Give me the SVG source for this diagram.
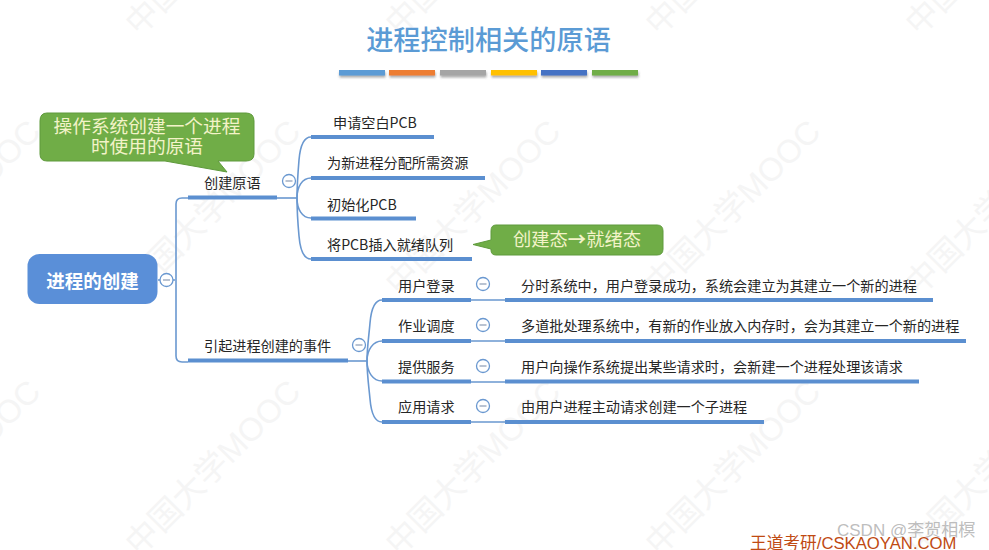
<svg xmlns="http://www.w3.org/2000/svg" width="989" height="550" viewBox="0 0 989 550">
<style>
text{font-family:"Noto Sans CJK SC","Liberation Sans",sans-serif}
.wm{font-size:32.500px;fill:#f5f5f5;font-family:"Liberation Sans","Noto Sans CJK SC",sans-serif}
.t{font-size:14.150px;fill:#262626}
.ln{fill:none;stroke:#6a98d0;stroke-width:1.6}
.bar{stroke:#5b8fd0;stroke-width:4;fill:none}
.c{fill:#fff;stroke:#6a98d0;stroke-width:1.3}
.m{stroke:#8a9cb5;stroke-width:1.2}
.g{fill:#70ad47;stroke:#5f9a3c;stroke-width:1}
.gt{fill:#f3f3c8;text-anchor:middle}
.f{font-family:"Liberation Sans","Noto Sans CJK SC",sans-serif}
</style>
<defs><filter id="s" x="-5%" y="-50%" width="110%" height="250%"><feDropShadow dx="0.5" dy="2" stdDeviation="1" flood-color="#555" flood-opacity="0.5"/></filter></defs>
<rect width="989" height="550" fill="#fff"/>
<g id="watermark">
<text class="wm" transform="translate(139,37) rotate(-45)">中国大学MOOC</text>
<text class="wm" transform="translate(399,37) rotate(-45)">中国大学MOOC</text>
<text class="wm" transform="translate(659,37) rotate(-45)">中国大学MOOC</text>
<text class="wm" transform="translate(919,37) rotate(-45)">中国大学MOOC</text>
<text class="wm" transform="translate(-121,297) rotate(-45)">中国大学MOOC</text>
<text class="wm" transform="translate(139,297) rotate(-45)">中国大学MOOC</text>
<text class="wm" transform="translate(399,297) rotate(-45)">中国大学MOOC</text>
<text class="wm" transform="translate(659,297) rotate(-45)">中国大学MOOC</text>
<text class="wm" transform="translate(919,297) rotate(-45)">中国大学MOOC</text>
<text class="wm" transform="translate(-121,557) rotate(-45)">中国大学MOOC</text>
<text class="wm" transform="translate(139,557) rotate(-45)">中国大学MOOC</text>
<text class="wm" transform="translate(399,557) rotate(-45)">中国大学MOOC</text>
<text class="wm" transform="translate(659,557) rotate(-45)">中国大学MOOC</text>
<text class="wm" transform="translate(919,557) rotate(-45)">中国大学MOOC</text>
</g>
<g id="title">
<text x="488.500" y="50" text-anchor="middle" font-size="27.200" font-weight="500" fill="#5b9bd5">进程控制相关的原语</text>
<g filter="url(#s)">
<rect x="339" y="70" width="46" height="5.500" fill="#5b9bd5"/>
<rect x="389" y="70" width="46" height="5.500" fill="#ed7d31"/>
<rect x="440" y="70" width="46" height="5.500" fill="#a5a5a5"/>
<rect x="491" y="70" width="46" height="5.500" fill="#ffc000"/>
<rect x="541" y="70" width="46" height="5.500" fill="#4472c4"/>
<rect x="592" y="70" width="46" height="5.500" fill="#70ad47"/>
</g>
</g>
<g id="connectors">
<path class="ln" d="M158 280H175M188 198H182Q176 198 176 204V356Q176 362 182 362H188"/>
<path class="ln" d="M277 198H297"/>
<path class="ln" d="M311 137C303 137 300 148 299 160C298 172 297 185 297 198C297 211 298 225 299 236C300 248 303 259 311 259"/>
<path class="ln" d="M311 178C302 178 297 187 297 198C297 209 302 218 311 218"/>
<path class="ln" d="M348 361H367"/>
<path class="ln" d="M382 300C374 300 371 311 370 323C369 335 367 348 367 361C367 374 369 388 370 399C371 411 374 422 382 422"/>
<path class="ln" d="M382 341C373 341 367 350 367 361C367 372 373 381 382 381"/>
<path class="ln" d="M471 300H505M471 341H505M471 382H505M471 422H505"/>
</g>
<g id="root">
<rect x="27.500" y="254" width="130" height="50" rx="12" fill="#5a8fd8"/>
<text x="92.500" y="288" text-anchor="middle" font-size="18.500" font-weight="700" fill="#fff">进程的创建</text>
<circle class="c" cx="166.500" cy="280" r="6.500"/><path class="m" d="M163 280h7"/>
</g>
<g id="n-create"><path class="bar" d="M188 197.500H277"/><text class="t" x="204" y="188">创建原语</text>
<circle class="c" cx="289" cy="181" r="6.500"/><path class="m" d="M285.500 181h7"/></g>
<g id="n-pcb"><path class="bar" d="M311 137H434"/><text class="t" x="333" y="128">申请空白PCB</text></g>
<g id="n-alloc"><path class="bar" d="M311 178H485"/><text class="t" x="327" y="168">为新进程分配所需资源</text></g>
<g id="n-init"><path class="bar" d="M311 218.500H416"/><text class="t" x="327" y="210">初始化PCB</text></g>
<g id="n-insert"><path class="bar" d="M311 259H472"/><text class="t" x="327" y="250">将PCB插入就绪队列</text></g>
<g id="n-event"><path class="bar" d="M188 360.500H348"/><text class="t" x="204" y="351">引起进程创建的事件</text>
<circle class="c" cx="359" cy="345" r="6.500"/><path class="m" d="M355.500 345h7"/></g>
<g id="n-login"><path class="bar" d="M382 300H471"/><text class="t" x="398" y="291">用户登录</text>
<circle class="c" cx="483" cy="284" r="6.500"/><path class="m" d="M479.500 284h7"/></g>
<g id="n-login-d"><path class="bar" d="M505 300H933"/><text class="t" x="521" y="291">分时系统中，用户登录成功，系统会建立为其建立一个新的进程</text></g>
<g id="n-job"><path class="bar" d="M382 341H471"/><text class="t" x="398" y="331">作业调度</text>
<circle class="c" cx="483" cy="325" r="6.500"/><path class="m" d="M479.500 325h7"/></g>
<g id="n-job-d"><path class="bar" d="M505 341H966"/><text class="t" x="521" y="331">多道批处理系统中，有新的作业放入内存时，会为其建立一个新的进程</text></g>
<g id="n-svc"><path class="bar" d="M382 381.500H471"/><text class="t" x="398" y="372">提供服务</text>
<circle class="c" cx="483" cy="366" r="6.500"/><path class="m" d="M479.500 366h7"/></g>
<g id="n-svc-d"><path class="bar" d="M505 381.500H919"/><text class="t" x="521" y="372">用户向操作系统提出某些请求时，会新建一个进程处理该请求</text></g>
<g id="n-app"><path class="bar" d="M382 422H471"/><text class="t" x="398" y="412">应用请求</text>
<circle class="c" cx="483" cy="406" r="6.500"/><path class="m" d="M479.500 406h7"/></g>
<g id="n-app-d"><path class="bar" d="M505 422H764"/><text class="t" x="521" y="412">由用户进程主动请求创建一个子进程</text></g>
<g id="callout-1">
<path class="g" d="M47 113H246Q254 113 254 121V154Q254 161 246 161H218L227 172L165 161H47Q40 161 40 154V121Q40 113 47 113Z"/>
<text class="gt" font-size="18.700"><tspan x="147" y="133">操作系统创建一个进程</tspan><tspan x="147" y="153">时使用的原语</tspan></text>
</g>
<g id="callout-2">
<path class="g" d="M496 225H657Q663 225 663 231V249Q663 255 657 255H496Q491 255 491 250V249L473 244.500L491 240V231Q491 225 496 225Z"/>
<text class="gt" x="577" y="246" font-size="18.300">创建态<tspan font-weight="700">→</tspan>就绪态</text>
</g>
<g id="footer">
<text class="f" x="750" y="549" font-size="16.700" fill="#c04a12">王道考研/CSKAOYAN.COM</text>
<text class="f" x="837" y="536" font-size="17" fill="#b5b5b5" fill-opacity="0.9">CSDN @李贺相榠</text>
</g>
</svg>
